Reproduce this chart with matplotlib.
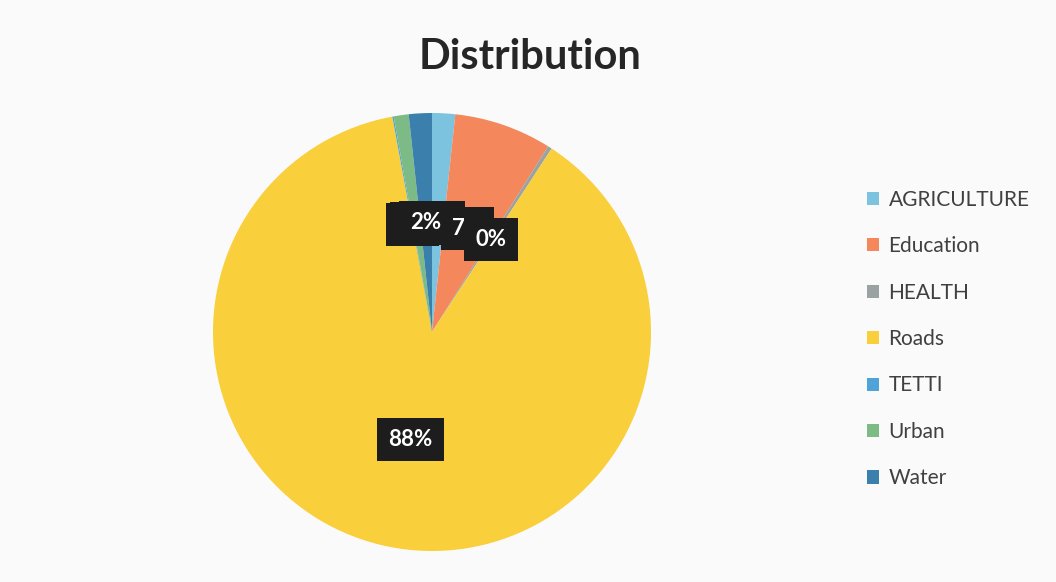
import matplotlib.pyplot as plt

# sector shares (percent)
sectors = ['AGRICULTURE', 'Education', 'HEALTH', 'Roads', 'TETTI', 'Urban', 'Water']
shares = [1.7, 7.2, 0.3, 87.9, 0.1, 1.1, 1.7]
colors = ['#7cc3df', '#f4875c', '#9aa2a2', '#f9cf3c', '#4fa3d6', '#7dbb86', '#3b80ad']

plt.rcParams['font.family'] = ['Lato', 'DejaVu Sans']

fig = plt.figure(figsize=(10.56, 5.82), dpi=100)
fig.patch.set_facecolor('#fbfafa')

# square axes for the pie
W, H = 1056, 582
cx, cy, r = 432, 332, 219
ax = fig.add_axes([(cx - r) / W, (H - cy - r) / H, 2 * r / W, 2 * r / H])
ax.set_facecolor('none')

wedges, texts, autotexts = ax.pie(
    shares, colors=colors, startangle=90, counterclock=False,
    autopct='%.0f%%', pctdistance=0.5, radius=1.0,
    wedgeprops=dict(linewidth=0))
for t in autotexts:
    t.set_color('white')
    t.set_fontsize(16)
    t.set_fontweight('bold')
    t.set_bbox(dict(boxstyle='square,pad=0.5', fc='#1d1d1d', ec='none'))
ax.set_xlim(-1, 1)
ax.set_ylim(-1, 1)
ax.set_aspect('equal')

fig.text(530 / W, 1 - 57 / H, 'Distribution', ha='center', va='center',
         fontsize=30, fontweight='bold', color='#262626')

leg = fig.legend(wedges, sectors, loc='center left',
                 bbox_to_anchor=(848 / W, 1 - 339 / H), frameon=False,
                 fontsize=15, labelspacing=1.27, handlelength=0.6,
                 handleheight=0.6, handletextpad=0.45)
for t in leg.get_texts():
    t.set_color('#404040')

fig.savefig('out.png', dpi=100, facecolor=fig.get_facecolor())
